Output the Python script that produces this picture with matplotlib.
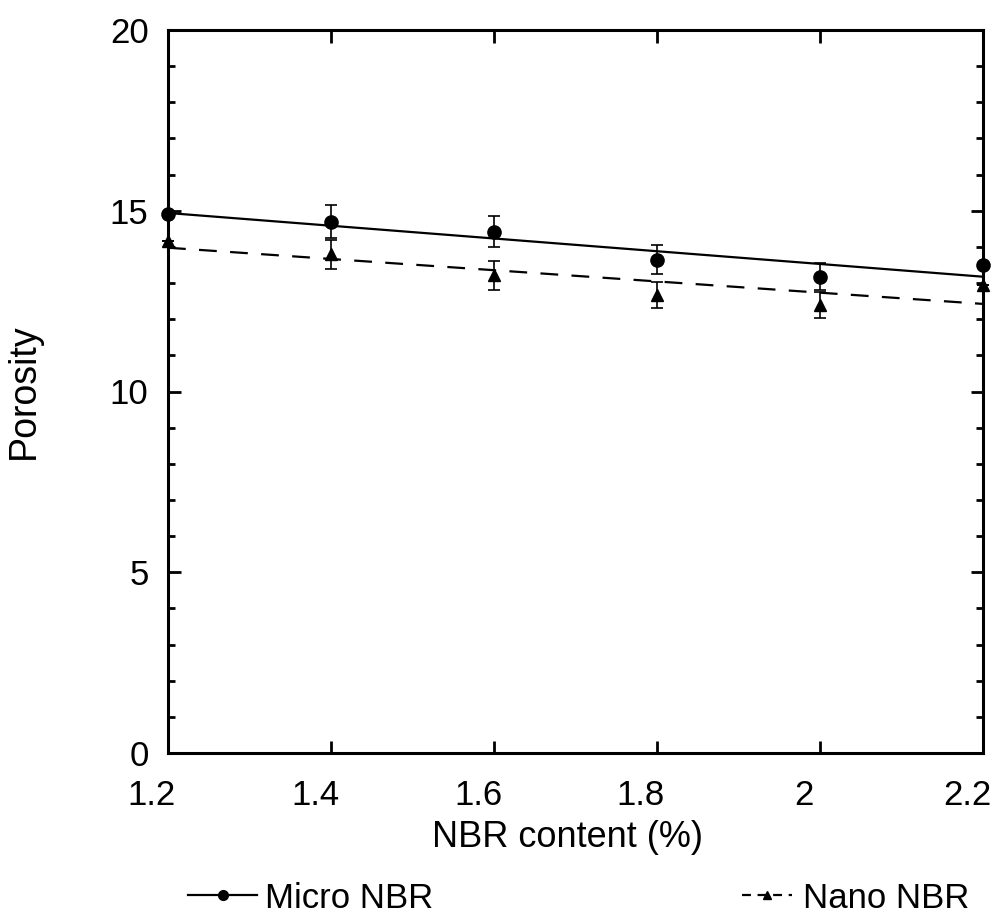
import numpy as np
import matplotlib
matplotlib.use("Agg")
import matplotlib.pyplot as plt
import matplotlib.transforms as mtrans
from matplotlib.lines import Line2D

# Data
nbr_content = [1.2, 1.4, 1.6, 1.8, 2.0, 2.2]
micro_porosity = [14.9, 14.7, 14.42, 13.64, 13.18, 13.5]
micro_err = [0.0, 0.45, 0.43, 0.40, 0.37, 0.0]
nano_porosity = [14.17, 13.8, 13.22, 12.67, 12.39, 12.95]
nano_err = [0.0, 0.40, 0.40, 0.37, 0.36, 0.0]
x_ticks = [1.2, 1.4, 1.6, 1.8, 2.0, 2.2]
x_tick_labels = ["1.2", "1.4", "1.6", "1.8", "2", "2.2"]
y_ticks = [0, 5, 10, 15, 20]

plt.rcParams['font.family'] = ['Liberation Sans', 'DejaVu Sans']

fig = plt.figure(figsize=(9.96, 9.16), dpi=100)
ax = fig.add_axes([168/996, 1-753/916, (983-168)/996, (753-30)/916])

x = np.array(nbr_content)
# linear trend lines
pm = np.polyfit(x, micro_porosity, 1)
pn = np.polyfit(x, nano_porosity, 1)
xl = np.array([1.2, 2.2])
ax.plot(xl, np.polyval(pm, xl), '-', color='black', lw=1.6, zorder=2)
ax.plot(xl, np.polyval(pn, xl), '--', color='black', lw=1.6, dashes=(8, 6), zorder=2)

ax.errorbar(x, micro_porosity, yerr=micro_err, fmt='o', color='black', ms=9.5,
            capsize=4.5, elinewidth=1.2, capthick=1.2, zorder=3, clip_on=False)
ax.errorbar(x, nano_porosity, yerr=nano_err, fmt='^', color='black', ms=8.5,
            capsize=4.5, elinewidth=1.2, capthick=1.2, zorder=3, clip_on=False)

ax.set_xlim(1.2, 2.2)
ax.set_ylim(0, 20)
ax.set_xticks(x_ticks)
ax.set_xticklabels(x_tick_labels)
ax.set_yticks(y_ticks)
ax.set_yticks(np.arange(0, 21, 1), minor=True)

ax.tick_params(axis='both', which='major', direction='in', length=9, width=2,
               labelsize=25, top=True, right=True)
ax.tick_params(axis='y', which='minor', direction='in', length=5, width=2,
               left=True, right=True)
ax.tick_params(axis='x', which='minor', bottom=False, top=False)
ax.tick_params(axis='x', which='major', pad=19)
ax.tick_params(axis='y', which='major', pad=14)
for s in ax.spines.values():
    s.set_linewidth(2.2)

# x tick labels in the reference sit slightly left of their ticks
shift = mtrans.ScaledTranslation(-16/100, 0, fig.dpi_scale_trans)
for lab in ax.get_xticklabels():
    lab.set_transform(lab.get_transform() + shift)

ax.set_xlabel("NBR content (%)", fontsize=26)
ax.xaxis.set_label_coords((567-168)/815, (753-820)/723)
ax.set_ylabel("Porosity", fontsize=27)
ax.yaxis.set_label_coords((42-168)/815, 0.5)

h1 = Line2D([], [], color='black', lw=1.6, marker='o', ms=7)
h2 = Line2D([], [], color='black', lw=1.6, ls='--', dashes=(4, 3), marker='^', ms=6)
fig.legend([h1], ["Micro NBR"], loc='center left', bbox_to_anchor=(188/996, 1-898/916),
           frameon=False, fontsize=25, handlelength=2.0, handletextpad=0.23, borderpad=0,
           borderaxespad=0)
fig.legend([h2], ["Nano NBR"], loc='center left', bbox_to_anchor=(742/996, 1-898/916),
           frameon=False, fontsize=25, handlelength=1.45, handletextpad=0.32, borderpad=0,
           borderaxespad=0)

fig.savefig("out.png", dpi=100)
